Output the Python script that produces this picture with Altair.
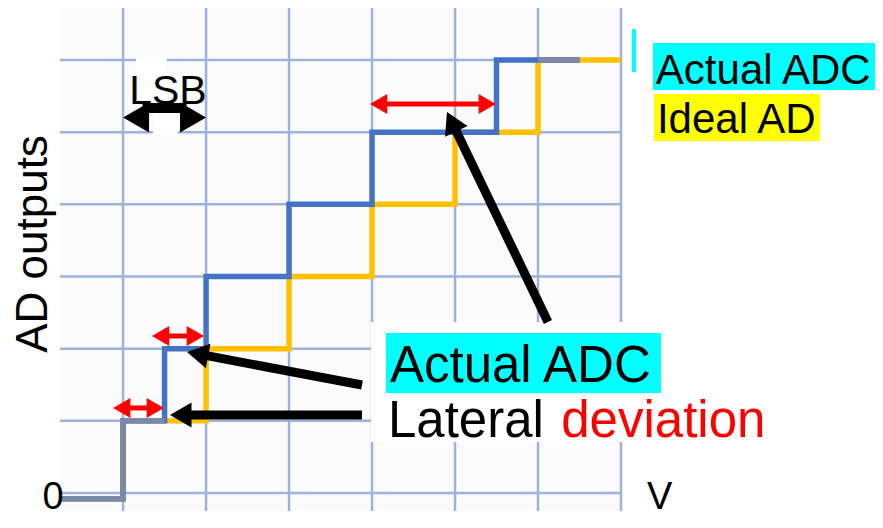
import math
import altair as alt
import pandas as pd

# ---------------- data ----------------
ideal_v = [0.24, 1, 2, 3, 4, 5, 6, 7]
ideal_lvl = [-0.08, 1, 2, 3, 4, 5, 6, 6]
actual_v = [0.24, 1, 1.5, 2, 3, 4, 5.5, 6.5]
actual_lvl = [-0.08, 1, 2, 3, 4, 5, 6, 6]
overlap_v = [0.24, 1, 1.5, 6, 6.5]
overlap_lvl = [-0.08, 1, 1, 6, 6]
overlap_seg = [0, 0, 0, 1, 1]

grid_v = [1, 2, 3, 4, 5, 6, 7]
grid_lvl = [0, 1, 2, 3, 4, 5, 6]

X_DOM = [0.24, 7.0]
Y_DOM = [-0.25, 6.72]
W, H = 561, 503

# red double arrows (lateral deviation): level, from, to
red_k = [5.39, 2.175, 1.178]
red_v1 = [3.975, 1.348, 0.879]
red_v2 = [5.493, 1.975, 1.493]

# pointer arrows: tail -> tip
ptr_tail_v = [6.12, 3.879, 3.879]
ptr_tail_k = [2.369, 1.496, 1.081]
ptr_tip_v = [4.903, 1.770, 1.565]
ptr_tip_k = [5.279, 1.954, 1.081]

# LSB arrow
lsb_v = [1.0, 2.0]
lsb_k = 5.203
lsb_shaft_k = 5.335

# ---------------- helpers ----------------
SX = W / (X_DOM[1] - X_DOM[0])
SY = H / (Y_DOM[1] - Y_DOM[0])
SQ3 = math.sqrt(3)

heads, shafts = [], []


def add_arrow(v0, k0, v1, k1, color, width, hsize, double=False, shaft_k=None):
    dxp = (v1 - v0) * SX
    dyp = -(k1 - k0) * SY
    L = math.hypot(dxp, dyp)
    ux, uy = dxp / L, dyp / L
    h = SQ3 / 4 * math.sqrt(hsize)
    ang = math.degrees(math.atan2(ux, -uy)) % 360

    def head(tv, tk, ux_, uy_, a):
        heads.append(dict(v=tv - h * ux_ / SX, k=tk + h * uy_ / SY,
                          angle=a, color=color, size=hsize))

    head(v1, k1, ux, uy, ang)
    s0v, s0k = v0, k0
    if double:
        head(v0, k0, -ux, -uy, (ang + 180) % 360)
        s0v, s0k = v0 + 1.5 * h * ux / SX, k0 - 1.5 * h * uy / SY
    s1v, s1k = v1 - 1.5 * h * ux / SX, k1 + 1.5 * h * uy / SY
    if shaft_k is not None:
        s0k = s1k = shaft_k
    shafts.append(dict(v=s0v, k=s0k, v2=s1v, k2=s1k, color=color, width=width))


for k, a, b in zip(red_k, red_v1, red_v2):
    add_arrow(a, k, b, k, "#FF0000", 5, 400, double=True)
for tv, tk, pv, pk in zip(ptr_tail_v, ptr_tail_k, ptr_tip_v, ptr_tip_k):
    add_arrow(tv, tk, pv, pk, "#000000", 9, 620)
add_arrow(lsb_v[0], lsb_k, lsb_v[1], lsb_k, "#000000", 10, 900, double=True,
          shaft_k=lsb_shaft_k)

heads_df = pd.DataFrame(heads)
shafts_df = pd.DataFrame(shafts)

rects = pd.DataFrame([
    dict(v=1.156, v2=1.529, k=6.04, k2=5.45, fill="#ffffff"),
    dict(v=1.36, v2=1.662, k=5.265, k2=4.974, fill="#ffffff"),
    dict(v=3.987, v2=8.915, k=2.369, k2=0.707, fill="#ffffff"),
])
hl_rects = pd.DataFrame([
    dict(v=4.168, v2=7.481, k=2.217, k2=1.386, fill="#00FFFF"),
    dict(v=7.385, v2=10.12, k=6.235, k2=5.584, fill="#00FFFF"),
    dict(v=7.397, v2=9.397, k=5.529, k2=4.877, fill="#FFFF00"),
    dict(v=7.132, v2=7.18, k=6.43, k2=5.83, fill="#00FFFF"),
])

texts = pd.DataFrame([
    dict(v=1.54, k=5.39, t="LSB", size=41, color="#000000", align="center"),
    dict(v=7.42, k=5.667, t="Actual ADC", size=42, color="#000000", align="left"),
    dict(v=7.433, k=4.988, t="Ideal AD", size=42, color="#000000", align="left"),
    dict(v=4.216, k=1.538, t="Actual ADC", size=51, color="#000000", align="left"),
    dict(v=4.192, k=0.776, t="Lateral", size=51, color="#000000", align="left"),
    dict(v=6.28, k=0.776, t="deviation", size=51, color="#FF0000", align="left"),
    dict(v=0.156, k=-0.22, t="0", size=38, color="#000000", align="center"),
    dict(v=7.312, k=-0.22, t="V", size=38, color="#000000", align="left"),
])

lines = pd.DataFrame(
    [dict(v=a, k=b, s="ideal", o=i) for i, (a, b) in enumerate(zip(ideal_v, ideal_lvl))]
    + [dict(v=a, k=b, s="actual", o=i) for i, (a, b) in enumerate(zip(actual_v, actual_lvl))]
    + [dict(v=a, k=b, s="overlap%d" % g, o=i)
       for i, (a, b, g) in enumerate(zip(overlap_v, overlap_lvl, overlap_seg))]
)

vgrid = pd.DataFrame({"v": grid_v, "k": Y_DOM[0], "k2": Y_DOM[1]})
hgrid = pd.DataFrame({"k": grid_lvl, "v": X_DOM[0], "v2": X_DOM[1]})

# ---------------- chart ----------------
xs = alt.Scale(domain=X_DOM, nice=False, zero=False)
ys = alt.Scale(domain=Y_DOM, nice=False, zero=False)
GRID = "#9db3dd"

vgrid_layer = alt.Chart(vgrid).mark_rule(color=GRID, strokeWidth=2.5).encode(
    x=alt.X("v:Q", scale=xs, axis=None),
    y=alt.Y("k:Q", scale=ys, axis=None), y2="k2:Q",
)
hgrid_layer = alt.Chart(hgrid).mark_rule(color=GRID, strokeWidth=2.5).encode(
    x=alt.X("v:Q", scale=xs, axis=None), x2="v2:Q",
    y=alt.Y("k:Q", scale=ys, axis=None),
)

white_layer = alt.Chart(rects).mark_rect(stroke=None).encode(
    x=alt.X("v:Q", scale=xs, axis=None), x2="v2:Q",
    y=alt.Y("k:Q", scale=ys, axis=None), y2="k2:Q",
    fill=alt.Fill("fill:N", scale=None),
)


def step_line(name, color):
    return alt.Chart(lines[lines["s"].str.startswith(name)]).mark_line(
        interpolate="step-after", strokeWidth=5.5, strokeJoin="miter", strokeCap="butt",
        color=color, clip=False,
    ).encode(
        x=alt.X("v:Q", scale=xs, axis=None),
        y=alt.Y("k:Q", scale=ys, axis=None),
        detail="s:N",
        order="o:Q",
    )


ideal_layer = step_line("ideal", "#FFC000")
actual_layer = step_line("actual", "#4472C4")
overlap_layer = step_line("overlap", "#7b89a6")

shaft_layer = alt.Chart(shafts_df).mark_rule(strokeCap="butt").encode(
    x=alt.X("v:Q", scale=xs, axis=None), x2="v2:Q",
    y=alt.Y("k:Q", scale=ys, axis=None), y2="k2:Q",
    color=alt.Color("color:N", scale=None),
    strokeWidth=alt.StrokeWidth("width:Q", scale=None),
)

head_layer = alt.Chart(heads_df).mark_point(shape="triangle-up", filled=True, opacity=1,
                                             strokeWidth=0).encode(
    x=alt.X("v:Q", scale=xs, axis=None),
    y=alt.Y("k:Q", scale=ys, axis=None),
    color=alt.Color("color:N", scale=None),
    size=alt.Size("size:Q", scale=None),
    angle=alt.Angle("angle:Q", scale=None),
)

hl_layer = alt.Chart(hl_rects).mark_rect(stroke=None).encode(
    x=alt.X("v:Q", scale=xs, axis=None), x2="v2:Q",
    y=alt.Y("k:Q", scale=ys, axis=None), y2="k2:Q",
    fill=alt.Fill("fill:N", scale=None),
)

FONT = "Liberation Sans"
text_layers = []
for al in ["left", "center"]:
    sub = texts[texts["align"] == al]
    text_layers.append(
        alt.Chart(sub).mark_text(align=al, baseline="alphabetic", font=FONT).encode(
            x=alt.X("v:Q", scale=xs, axis=None),
            y=alt.Y("k:Q", scale=ys, axis=None),
            text="t:N",
            size=alt.Size("size:Q", scale=None),
            color=alt.Color("color:N", scale=None),
        )
    )

ylabel = alt.Chart(pd.DataFrame({"v": [-0.073], "k": [3.45], "t": ["AD outputs"]})).mark_text(
    angle=270, align="center", baseline="middle", font=FONT, fontSize=44, color="#000000"
).encode(
    x=alt.X("v:Q", scale=xs, axis=None),
    y=alt.Y("k:Q", scale=ys, axis=None),
    text="t:N",
)

chart = alt.layer(
    vgrid_layer, hgrid_layer, white_layer, ideal_layer, actual_layer, overlap_layer,
    shaft_layer, head_layer, hl_layer, *text_layers, ylabel,
).properties(
    width=W, height=H,
    padding={"left": 52, "top": 0, "right": 254, "bottom": 9},
    autosize=alt.AutoSizeParams(type="none"),
    background="#ffffff",
).configure_view(
    stroke=None, fill="#fbfbfc",
)

chart.save("out.html", embed_options={"renderer": "svg", "actions": False})
